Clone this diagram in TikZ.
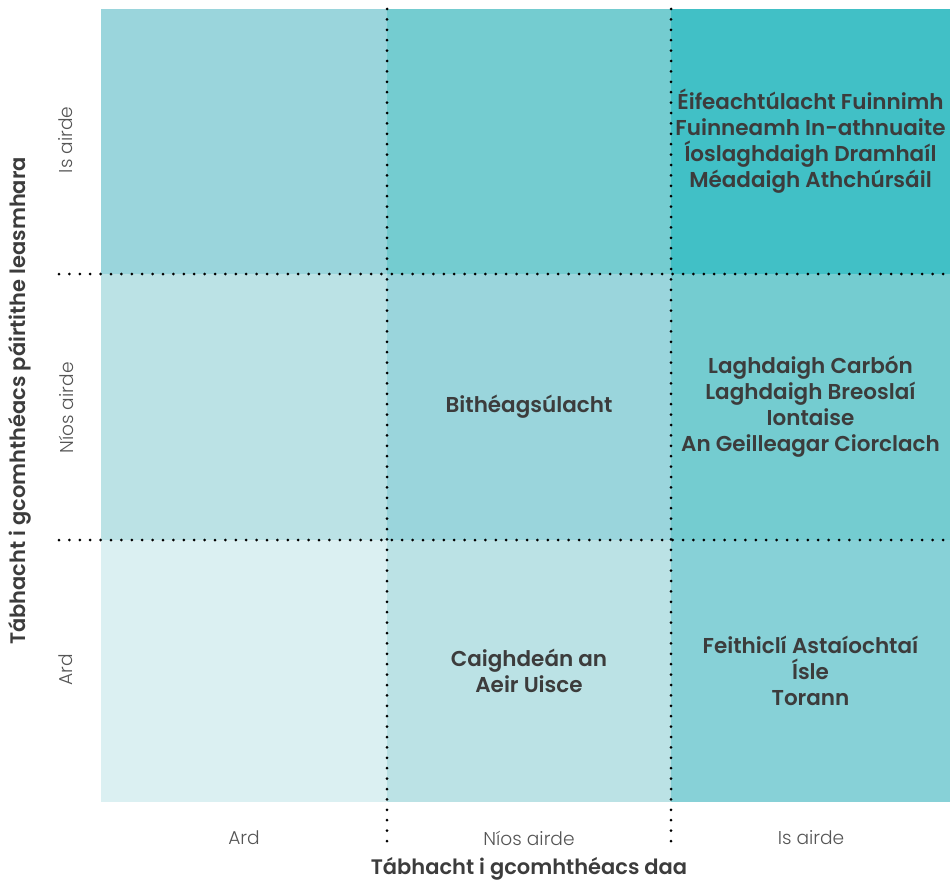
\documentclass[tikz,border=0pt]{standalone}
\usepackage{fontspec}
\setmainfont{Poppins}
\IfFontExistsTF{Poppins Light}{\newfontfamily\lightfont{Poppins Light}}{\newfontfamily\lightfont{Poppins}}
\IfFontExistsTF{Poppins SemiBold}{\newfontfamily\headfont{Poppins SemiBold}}{\newfontfamily\headfont{Poppins}[UprightFont=*-SemiBold]}
\definecolor{cellA}{HTML}{DBF0F2}
\definecolor{cellB}{HTML}{BBE2E5}
\definecolor{cellC}{HTML}{9AD5DC}
\definecolor{cellD}{HTML}{87D1D7}
\definecolor{cellE}{HTML}{74CCD0}
\definecolor{cellF}{HTML}{41C0C6}
\definecolor{ink}{HTML}{3C3C3C}
\definecolor{tickgray}{HTML}{555555}
\begin{document}
\begin{tikzpicture}[
    x=1pt, y=-1pt,
    cell/.style={inner sep=0pt, outer sep=0pt, align=center, text=ink,
                 font=\headfont\fontsize{21.5}{26}\selectfont},
    tick/.style={text=tickgray, font=\lightfont\fontsize{18.6}{22}\selectfont},
    axistitle/.style={text=ink, font=\headfont\fontsize{21}{24}\selectfont},
    gridline/.style={line width=3pt, line cap=round,
                     dash pattern=on 0pt off 10.4pt},
]
\useasboundingbox (0,0) rectangle (950,883);

% Row 1: highest (top)
\node[cell, fill=cellC, minimum width=286pt, minimum height=265pt] (c11) at (244,141.5) {};
\node[cell, fill=cellE, minimum width=284pt, minimum height=265pt] (c12) at (529,141.5) {};
\node[cell, fill=cellF, minimum width=279pt, minimum height=265pt] (c13) at (810.5,141.5) {%
    Éifeachtúlacht Fuinnimh\\Fuinneamh In-athnuaite\\Íoslaghdaigh Dramhaíl\\Méadaigh Athchúrsáil};

% Row 2: higher
\node[cell, fill=cellB, minimum width=286pt, minimum height=266pt] (c21) at (244,407) {};
\node[cell, fill=cellC, minimum width=284pt, minimum height=266pt] (c22) at (529,407) {Bithéagsúlacht};
\node[cell, fill=cellE, minimum width=279pt, minimum height=266pt] (c23) at (810.5,407) {%
    Laghdaigh Carbón\\Laghdaigh Breoslaí\\Iontaise\\An Geilleagar Ciorclach};

% Row 3: high (bottom)
\node[cell, fill=cellA, minimum width=286pt, minimum height=262pt] (c31) at (244,671) {};
\node[cell, fill=cellB, minimum width=284pt, minimum height=262pt] (c32) at (529,671) {Caighdeán an\\Aeir Uisce};
\node[cell, fill=cellD, minimum width=279pt, minimum height=262pt] (c33) at (810.5,671) {%
    Feithiclí Astaíochtaí\\Ísle\\Torann};

% Dotted dividers
\coordinate (v1end) at (387,842);
\coordinate (v2end) at (671,842);
\coordinate (h1start) at (59,274);
\coordinate (h2start) at (59,540);
\draw[gridline] (c11.north east) -- (v1end);
\draw[gridline] (c12.north east) -- (v2end);
\draw[gridline] (h1start) -- (c13.south east);
\draw[gridline] (h2start) -- (c23.south east);

% Axis ticks
\node[tick] (xlo)  at (244,838) {Ard};
\node[tick] (xmid) at (529,838) {Níos airde};
\node[tick] (xhi)  at (811,838) {Is airde};
\node[tick, rotate=90] (ylo)  at (66,670) {Ard};
\node[tick, rotate=90] (ymid) at (66,408) {Níos airde};
\node[tick, rotate=90] (yhi)  at (66,140) {Is airde};

% Axis titles
\node[axistitle] (xtitle) at (529,869) {Tábhacht i gcomhthéacs daa};
\node[axistitle, rotate=90] (ytitle) at (20,401) {Tábhacht i gcomhthéacs páirtithe leasmhara};
\end{tikzpicture}
\end{document}
